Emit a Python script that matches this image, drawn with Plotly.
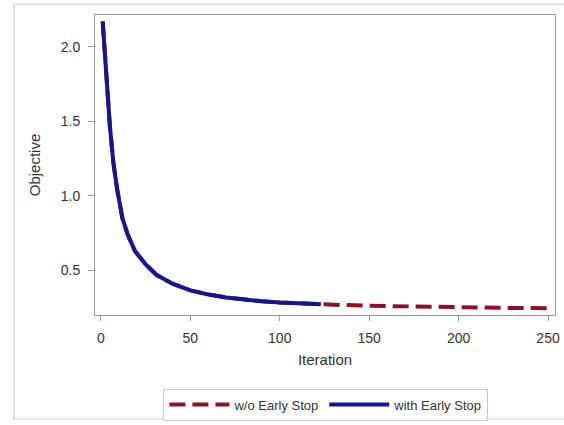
import plotly.graph_objects as go

# Objective value per iteration, run with early stopping (stops at iteration 123)
iters_early = [1, 3, 5, 7, 9, 12, 15, 19, 25, 31, 40, 50, 60, 70, 80, 90, 100, 110, 123]
obj_early = [2.17, 1.80, 1.47, 1.22, 1.05, 0.85, 0.74, 0.63, 0.54, 0.47, 0.41, 0.365,
             0.338, 0.318, 0.303, 0.292, 0.284, 0.278, 0.272]

# Remaining iterations of the run without early stopping
iters_tail = [130, 150, 175, 200, 225, 250]
obj_tail = [0.269, 0.262, 0.256, 0.252, 0.248, 0.245]

x_ticks = [0, 50, 100, 150, 200, 250]
y_ticks = [0.5, 1.0, 1.5, 2.0]

blue = "#15158f"
red = "#8c1126"
axis_grey = "#9a9a9a"
text_col = "#333333"
font_family = "Liberation Sans, Arial, sans-serif"

fig = go.Figure()

fig.add_trace(go.Scatter(
    x=iters_early + iters_tail, y=obj_early + obj_tail,
    mode="lines", name="w/o Early Stop",
    line=dict(color=red, width=4, dash="16px,7px"),
))
fig.add_trace(go.Scatter(
    x=iters_early, y=obj_early,
    mode="lines", name="with Early Stop",
    line=dict(color=blue, width=4),
))

# light outer frame around the whole graph
fig.add_shape(type="rect", xref="paper", yref="paper",
              x0=-0.176, x1=1.2, y0=-0.347, y1=1.036,
              line=dict(color="#dcdcdc", width=1.5), layer="below")

fig.update_layout(
    width=564, height=425,
    margin=dict(l=95, r=4, t=15, b=107),
    paper_bgcolor="white", plot_bgcolor="white",
    font=dict(family=font_family, size=14, color=text_col),
    showlegend=True,
    legend=dict(
        orientation="h", x=0.502, xanchor="center", y=-0.245, yanchor="top",
        bordercolor="#c8c8c8", borderwidth=1, bgcolor="white",
        font=dict(size=13, color=text_col), itemwidth=60,
        traceorder="normal",
    ),
    xaxis=dict(
        range=[-3.3, 253.9], tickvals=x_ticks, ticktext=[str(v) for v in x_ticks],
        showgrid=False, zeroline=False,
        showline=True, linecolor=axis_grey, linewidth=1, mirror=True,
        ticks="outside", ticklen=5, tickcolor=axis_grey,
        ticklabelstandoff=5, ticklabeloverflow="allow",
        tickfont=dict(size=14, color=text_col),
        title=dict(text="Iteration", font=dict(size=15, color=text_col), standoff=9),
    ),
    yaxis=dict(
        range=[0.2, 2.213], tickvals=y_ticks, tickformat=".1f",
        showgrid=False, zeroline=False,
        showline=True, linecolor=axis_grey, linewidth=1, mirror=True,
        ticks="outside", ticklen=6, tickcolor=axis_grey,
        ticklabelstandoff=5,
        tickfont=dict(size=14, color=text_col),
        title=dict(text="Objective", font=dict(size=15, color=text_col), standoff=16),
    ),
)

fig.write_html("out.html")
